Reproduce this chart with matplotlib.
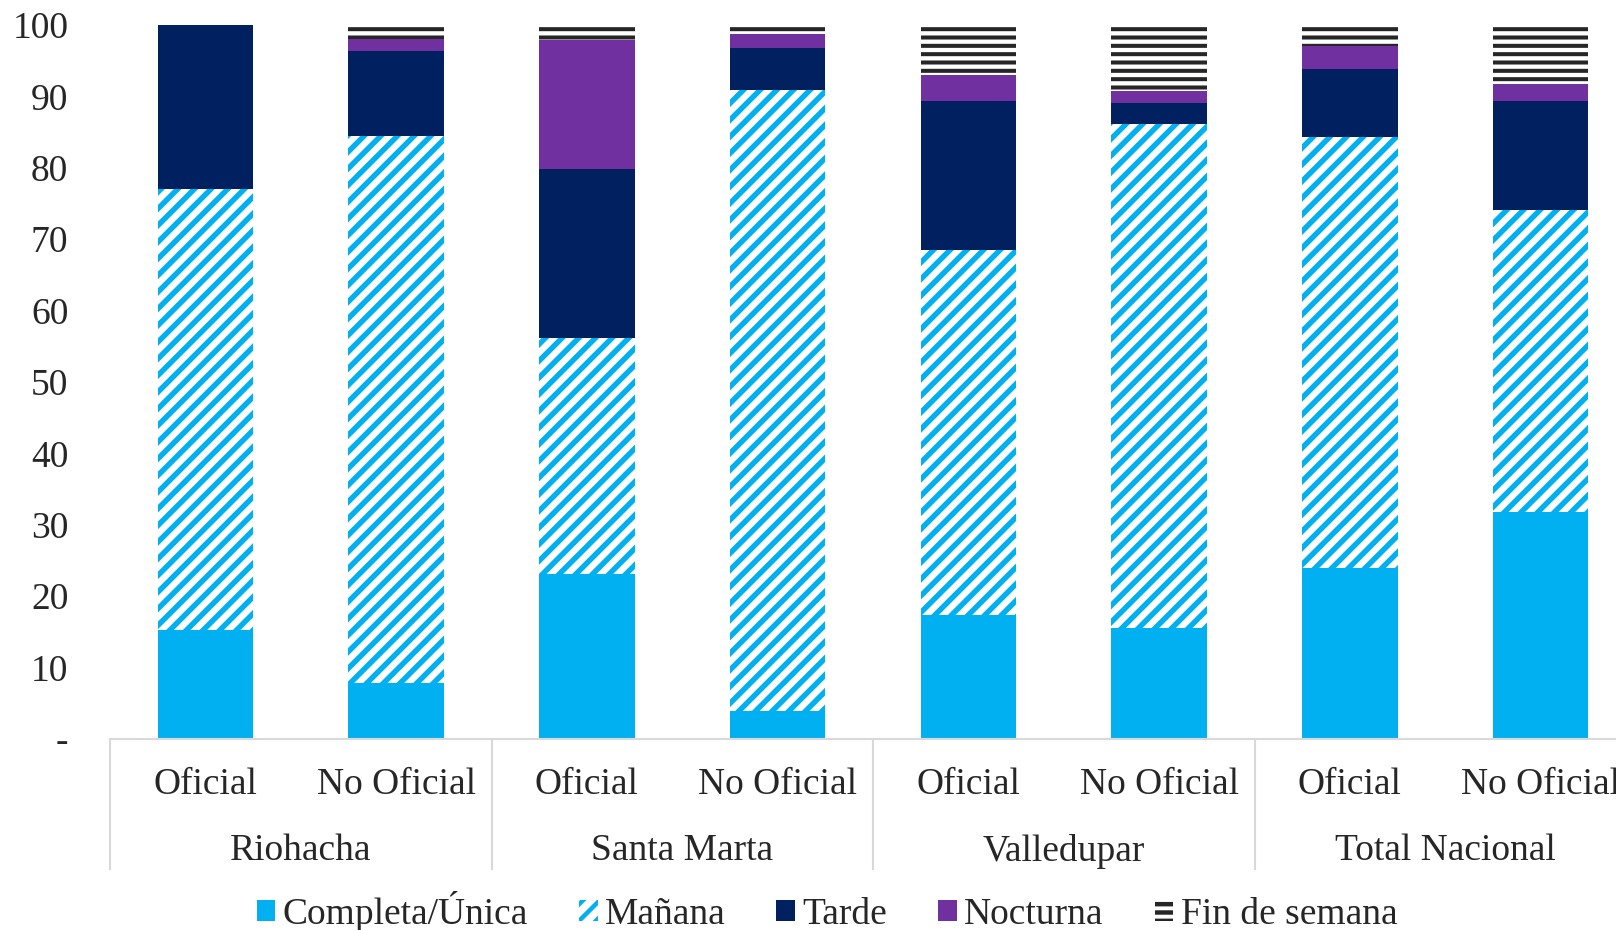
import matplotlib
matplotlib.use('Agg')
import matplotlib.pyplot as plt
import matplotlib.transforms as mtransforms

# datos (porcentajes por jornada)
ciudades = ['Riohacha', 'Santa Marta', 'Valledupar', 'Total Nacional']
sectores = ['Oficial', 'No Oficial']
series = ['Completa/Única', 'Mañana', 'Tarde', 'Nocturna', 'Fin de semana']

completa = [15.3, 7.8, 23.1, 3.9, 17.3, 15.5, 24.0, 31.8]
manana = [61.7, 76.7, 33.1, 87.0, 51.2, 70.7, 60.3, 42.3]
tarde = [23.0, 11.8, 23.7, 5.9, 20.8, 2.9, 9.5, 15.3]
nocturna = [0.0, 1.8, 18.0, 1.9, 3.7, 1.7, 3.3, 2.3]
fin_semana = [0.0, 1.9, 2.1, 1.3, 7.0, 9.2, 2.9, 8.3]

yticks = [0, 10, 20, 30, 40, 50, 60, 70, 80, 90, 100]
yticklabels = ['-', '10', '20', '30', '40', '50', '60', '70', '80', '90', '100']

FS = 27
plt.rcParams['font.family'] = ['Liberation Serif', 'DejaVu Serif']
plt.rcParams['font.size'] = FS
plt.rcParams['text.color'] = '#262626'
plt.rcParams['hatch.linewidth'] = 3.2

W, H = 1616, 930
fig = plt.figure(figsize=(W / 100, H / 100), dpi=100)
# el area de grafico se sale por la derecha, como en el original
ax = fig.add_axes([110 / W, (H - 739) / H, 1526 / W, 714 / H])

x = [i + 0.5 for i in range(len(completa))]
bw = 0.5

estilos = [
  dict(color='#00B0F0', edgecolor='none'),
  dict(color='white', edgecolor='#00B0F0', hatch='//', lw=0, hlw=3.9),
  dict(color='#002060', edgecolor='none'),
  dict(color='#7030A0', edgecolor='none'),
  dict(color='white', edgecolor='#262626', hatch='--', lw=0, hlw=2.9),
]
valores = [completa, manana, tarde, nocturna, fin_semana]

bottom = [0.0] * len(x)
handles = []
for nombre, vals, st in zip(series, valores, estilos):
  bars = ax.bar(x, vals, bw, bottom=bottom, color=st['color'],
                edgecolor=st['edgecolor'], hatch=st.get('hatch'),
                linewidth=st.get('lw', 0), label=nombre)
  if 'hlw' in st:
    for b in bars:
      if hasattr(b, 'set_hatch_linewidth'):
        b.set_hatch_linewidth(st['hlw'])
  handles.append(bars)
  bottom = [b + v for b, v in zip(bottom, vals)]

ax.set_xlim(0, 8)
ax.set_ylim(0, 100)
ax.set_yticks(yticks)
ax.set_yticklabels(yticklabels)
ax.tick_params(axis='y', length=0, pad=30, labelsize=FS, labelcolor='#262626')
ax.set_xticks([])
for s in ['left', 'right', 'top']:
  ax.spines[s].set_visible(False)
ax.spines['bottom'].set_color('#D9D9D9')
ax.spines['bottom'].set_linewidth(1.5)

# etiquetas de categorias en dos niveles
trans = mtransforms.blended_transform_factory(ax.transData, ax.transAxes)
for g, ciudad in enumerate(ciudades):
  for k, sec in enumerate(sectores):
    ax.text(2 * g + k + 0.5, -46 / 714, sec, transform=trans,
            ha='center', va='center', fontsize=FS)
  ax.text(2 * g + 1, -112 / 714, ciudad, transform=trans,
          ha='center', va='center', fontsize=FS)
for g in range(len(ciudades) + 1):
  ax.plot([2 * g, 2 * g], [0, -130 / 714], transform=trans, color='#D9D9D9',
          lw=1.5, clip_on=False)

fig.legend(handles=handles, labels=series, loc='center', ncol=5,
           bbox_to_anchor=(827 / W, 19 / H), frameon=False, fontsize=FS,
           handlelength=0.5, handleheight=0.5, handletextpad=0.2,
           columnspacing=1.35, borderpad=0)

fig.savefig('out.png', dpi=100)
